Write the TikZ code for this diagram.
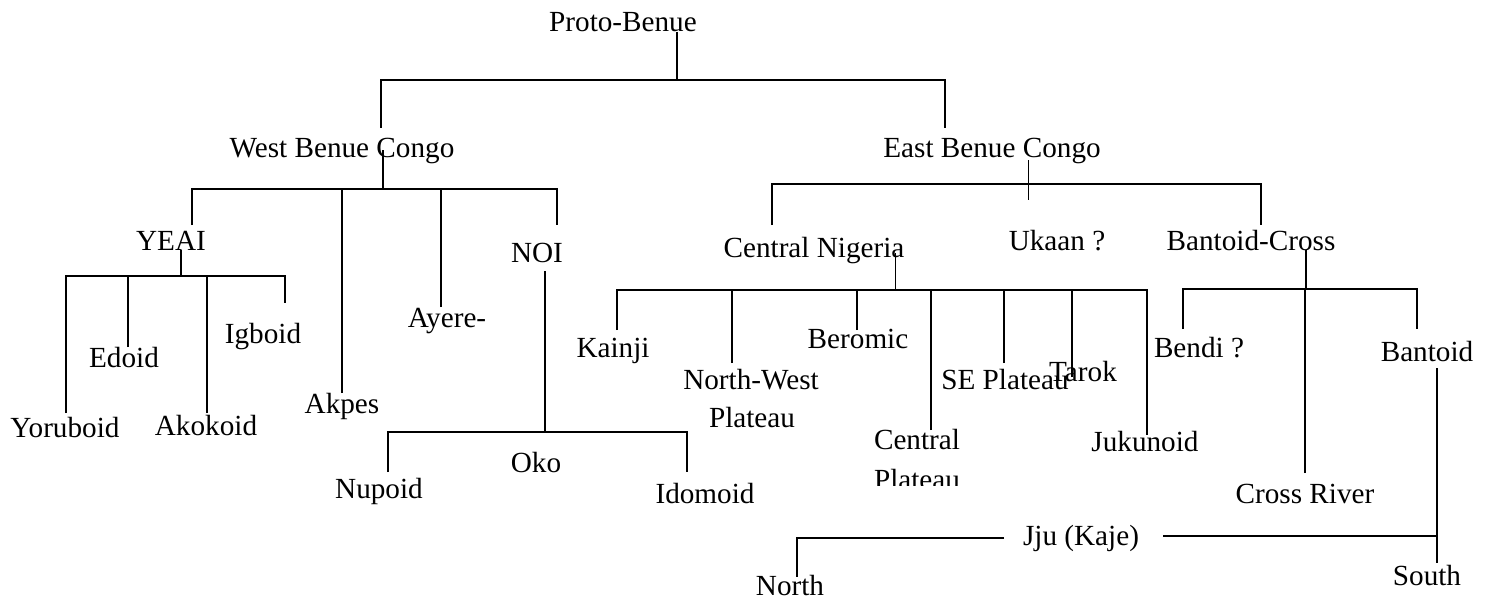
\documentclass[tikz,border=0pt]{standalone}
\usepackage{fontspec}
\setmainfont{Liberation Serif}
\begin{document}
\begin{tikzpicture}[x=0.5pt,y=-0.5pt,
  lbl/.style={font=\fontsize{14.6}{19}\selectfont, inner sep=0pt, anchor=base},
  link/.style={line width=0.65pt, black}]
\useasboundingbox (0,0) rectangle (1488,599);
% labels
\node[lbl] (pb) at (623,32) {Proto-Benue};
\node[lbl] (wbc) at (342,157) {West Benue Congo};
\node[lbl] (ebc) at (992,157) {East Benue Congo};
\node[lbl] (yeai) at (171,250) {YEAI};
\node[lbl] (noi) at (537,262) {NOI};
\node[lbl] (akpes) at (342,413) {Akpes};
\node[lbl] (ayere) at (447,327) {Ayere-};
\node[lbl] (yor) at (65,437) {Yoruboid};
\node[lbl] (edo) at (124,367) {Edoid};
\node[lbl] (ako) at (206,435) {Akokoid};
\node[lbl] (igbo) at (263,343) {Igboid};
\node[lbl] (oko) at (536,472) {Oko};
\node[lbl] (nupe) at (379,498) {Nupoid};
\node[lbl] (idom) at (705,503) {Idomoid};
\node[lbl] (cn) at (814,257) {Central Nigeria};
\node[lbl] (ukaan) at (1057,250) {Ukaan ?};
\node[lbl] (bc) at (1251,250) {Bantoid-Cross};
\node[lbl] (kainji) at (613,357) {Kainji};
\node[lbl] (nwa) at (751,389) {North-West};
\node[lbl] (nwb) at (752,427) {Plateau};
\node[lbl] (berom) at (858,348) {Beromic};
\node[lbl] (cpa) at (917,449) {Central};
\begin{scope}
  \clip (850,455) rectangle (990,485);
  \node[lbl] (cpb) at (917,489) {Plateau};
\end{scope}
\node[lbl] (sep) at (1005,389) {SE Plateau};
\node[lbl] (tarok) at (1083,381) {Tarok};
\node[lbl] (juk) at (1145,451) {Jukunoid};
\node[lbl] (bendi) at (1199,357) {Bendi ?};
\node[lbl] (bantoid) at (1427,361) {Bantoid};
\node[lbl] (cr) at (1305,503) {Cross River};
\node[lbl] (jju) at (1081,545) {Jju (Kaje)};
\node[lbl] (north) at (790,595) {North};
\node[lbl] (south) at (1427,585) {South};
% connector points
\coordinate (pbs) at (677,32);   \coordinate (pbj) at (677,80);
\coordinate (wbct) at (381,128); \coordinate (ebct) at (945,128);
\coordinate (wbcs) at (383,150); \coordinate (wbcj) at (383,189);
\coordinate (yeait) at (192,225); \coordinate (noit) at (557,225);
\coordinate (akpt) at (342,393); \coordinate (ayet) at (441,307);
\coordinate (yeais) at (181,250); \coordinate (yeaij) at (181,276);
\coordinate (yort) at (66,413); \coordinate (igbt) at (285,303);
\coordinate (edot) at (128,347); \coordinate (akot) at (207,413);
\coordinate (nois) at (545,271); \coordinate (noij) at (545,432);
\coordinate (nupt) at (388,472); \coordinate (idot) at (687,472);
\coordinate (ebcs) at (1028.5,160); \coordinate (ebce) at (1028.5,200);
\coordinate (cnt) at (772,225); \coordinate (bct) at (1261,225);
\coordinate (cns) at (895.5,253); \coordinate (cnj) at (895.5,290);
\coordinate (kait) at (617,330); \coordinate (jukt) at (1147,435);
\coordinate (nwt) at (732,363); \coordinate (bert) at (857,330);
\coordinate (cpt) at (931,430); \coordinate (sept) at (1004,363);
\coordinate (tart) at (1072,377);
\coordinate (bcs) at (1306,250); \coordinate (bcj) at (1306,289);
\coordinate (bent) at (1183,329); \coordinate (bant) at (1417,329);
\coordinate (crt) at (1305,473);
\coordinate (bans) at (1437,368); \coordinate (sout) at (1437,563);
\coordinate (jjur) at (1163,536); \coordinate (jjul) at (1004,538);
\coordinate (nort) at (797,577);
% connectors
\draw[link] (pbs) -- (pbj);
\draw[link] (wbct) |- (pbj) -| (ebct);
\draw[link] (wbcs) -- (wbcj);
\draw[link] (yeait) |- (wbcj) -| (noit);
\draw[link] (akpt) -- (akpt |- wbcj);
\draw[link] (ayet) -- (ayet |- wbcj);
\draw[link] (yeais) -- (yeaij);
\draw[link] (yort) |- (yeaij) -| (igbt);
\draw[link] (edot) -- (edot |- yeaij);
\draw[link] (akot) -- (akot |- yeaij);
\draw[link] (nois) -- (noij);
\draw[link] (nupt) |- (noij) -| (idot);
\draw[link] (ebcs) -- (ebce);
\draw[link] (cnt) -- (cnt |- 0,184) -- (bct |- 0,184) -- (bct);
\draw[link] (cns) -- (cnj);
\draw[link] (kait) |- (cnj) -| (jukt);
\draw[link] (nwt) -- (nwt |- cnj);
\draw[link] (bert) -- (bert |- cnj);
\draw[link] (cpt) -- (cpt |- cnj);
\draw[link] (sept) -- (sept |- cnj);
\draw[link] (tart) -- (tart |- cnj);
\draw[link] (bcs) -- (bcj);
\draw[link] (bent) |- (bcj) -| (bant);
\draw[link] (crt) -- (crt |- bcj);
\draw[link] (bans) -- (sout);
\draw[link] (jjur) -- (jjur -| bans);
\draw[link] (jjul) -| (nort);
\end{tikzpicture}
\end{document}
